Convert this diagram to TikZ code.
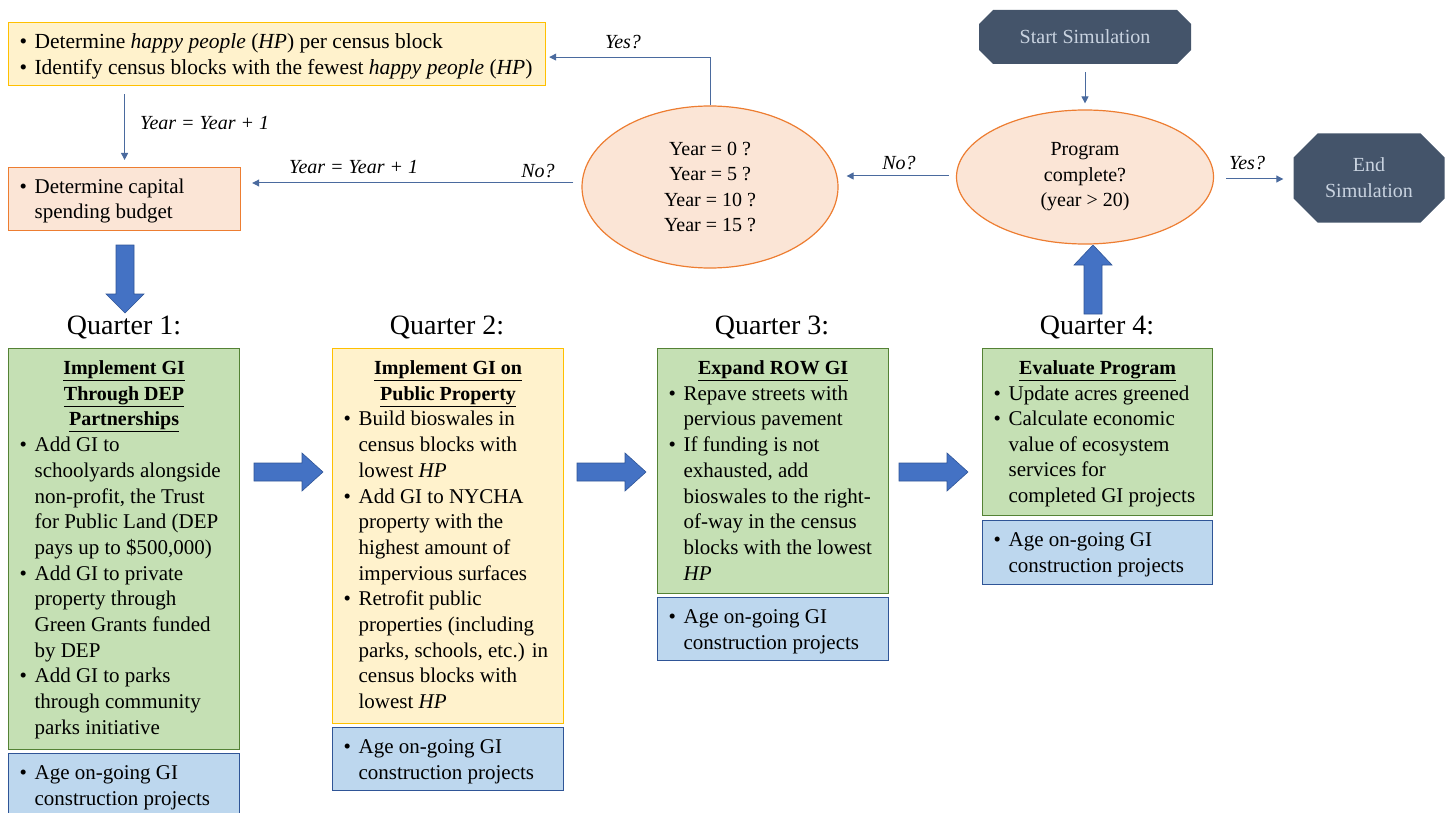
\documentclass[tikz,border=0pt]{standalone}
\usepackage{fontspec}
\setmainfont{Liberation Serif}
\usetikzlibrary{arrows.meta,shapes.geometric}
\definecolor{yfill}{HTML}{FFF2CC}
\definecolor{yline}{HTML}{FFC000}
\definecolor{gfill}{HTML}{C5E0B4}
\definecolor{gline}{HTML}{548235}
\definecolor{bfill}{HTML}{BDD7EE}
\definecolor{bline}{HTML}{2F5597}
\definecolor{ofill}{HTML}{FBE5D6}
\definecolor{oline}{HTML}{ED7D31}
\definecolor{slate}{HTML}{44546A}
\definecolor{slatetxt}{HTML}{C9D3E0}
\definecolor{connc}{HTML}{4A6A9E}
\definecolor{barfill}{HTML}{4472C4}
\definecolor{barline}{HTML}{2F5597}
\newlength{\bulx}\setlength{\bulx}{11pt}
\newlength{\bulw}\setlength{\bulw}{15pt}
\newcommand{\Bf}[1]{\hbox{\strut\hspace*{\bulx}\makebox[\bulw][l]{\textbullet}#1}}
\newcommand{\Bc}[1]{\hbox{\strut\hspace*{\bulx}\hspace*{\bulw}#1}}
\newcommand{\Hd}[1]{\hbox to \hsize{\strut\fontsize{20}{25.7}\selectfont\hfil\underline{\textbf{#1}}\hfil}}
\newcommand{\BxF}[5]{\parbox[c][#3][t]{#2}{\fontsize{#1}{#4}\selectfont\hrule height 0pt depth 0pt width #2\vskip 8pt #5}}
\newcommand{\Bx}[4]{\BxF{21}{#1}{#2}{#3}{#4}}
\tikzset{
  boxbase/.style={line width=1.2pt, inner sep=0pt, anchor=north west},
  ybox/.style={boxbase, draw=yline, fill=yfill},
  gbox/.style={boxbase, draw=gline, fill=gfill},
  bbox/.style={boxbase, draw=bline, fill=bfill},
  obox/.style={boxbase, draw=oline, fill=ofill},
  ell/.style={ellipse, draw=oline, fill=ofill, line width=1.2pt, inner sep=0pt, align=center, font=\fontsize{20}{25.6}\selectfont},
  octo/.style={inner sep=0pt, align=center, text=slatetxt, font=\fontsize{20}{26}\selectfont,
    path picture={\fill[slate] ([xshift=#1]path picture bounding box.north west) -- ([xshift=-#1]path picture bounding box.north east) -- ([yshift=-#1]path picture bounding box.north east) -- ([yshift=#1]path picture bounding box.south east) -- ([xshift=-#1]path picture bounding box.south east) -- ([xshift=#1]path picture bounding box.south west) -- ([yshift=#1]path picture bounding box.south west) -- ([yshift=-#1]path picture bounding box.north west) -- cycle;}},
  qlab/.style={inner sep=0pt, font=\fontsize{28}{30}\selectfont},
  lab/.style={inner sep=0pt, font=\fontsize{20}{24}\selectfont\itshape},
  conn/.style={draw=connc, line width=1pt, -{Triangle[width=7pt,length=7pt]}},
  barr/.style={fill=barfill, draw=barline, line width=0.6pt}
}
\newcommand{\HArr}[3]{\filldraw[barr] (#1,#3-9) -- (#2-21,#3-9) -- (#2-21,#3-19) -- (#2,#3) -- (#2-21,#3+19) -- (#2-21,#3+9) -- (#1,#3+9) -- cycle;}
\begin{document}
\begin{tikzpicture}[x=1pt,y=-1pt]
\useasboundingbox (0,0) rectangle (1447,813);
\clip (0,0) rectangle (1447,813);

% top boxes
\node[ybox] (tb) at (8,22) {\BxF{21.5}{537pt}{63pt}{26}{%
  \Bf{Determine \textit{happy people} (\textit{HP}) per census block}
  \Bf{Identify census blocks with the fewest \textit{happy people} (\textit{HP})}}};
\node[obox] (ob) at (8,167) {\Bx{232pt}{63pt}{25}{%
  \Bf{Determine capital}
  \Bc{spending budget}}};

% decisions
\node[ell, minimum width=256pt, minimum height=162pt] (e1) at (710,187) {Year = 0 ?\\Year = 5 ?\\Year = 10 ?\\Year = 15 ?};
\node[ell, minimum width=257pt, minimum height=134pt] (e2) at (1085,177) {Program\\complete?\\(year > 20)};

% terminals
\node[octo=14pt, minimum width=212pt, minimum height=54pt] (st) at (1085,37) {Start Simulation};
\node[octo=24pt, minimum width=151pt, minimum height=89pt] (en) at (1369,178) {End\\Simulation};

% connectors
\draw[conn, shorten >=3pt] (e1.north) |- ([yshift=-3pt]tb.east);
\draw[conn, shorten <=8pt, shorten >=7pt] (tb.south -| ob.north) -- (ob.north);
\coordinate (nw) at ([yshift=4pt]e1.west);
\draw[conn, shorten <=8pt, shorten >=11pt] (nw) -- (nw -| ob.east);
\coordinate (yw) at ([yshift=1pt]e2.west);
\draw[conn, shorten <=7pt, shorten >=8pt] (yw) -- (yw -| e1.east);
\coordinate (ye) at ([yshift=-2pt]e2.east);
\draw[conn, shorten <=12pt, shorten >=10pt] (ye) -- (ye -| en.west);
\draw[conn, shorten <=8pt, shorten >=6pt] (st.south) -- (e2.north);

% labels
\node[lab] (yes1) at (623,42) {Yes?};
\node[lab, anchor=west] (yr1) at (140,123) {Year = Year + 1};
\node[lab, anchor=west] (yr2) at (289,167) {Year = Year + 1};
\node[lab] (no1) at (538,171) {No?};
\node[lab] (no2) at (899,163) {No?};
\node[lab] (yes2) at (1247,163) {Yes?};

% quarter titles
\node[qlab] (l1) at (124,327) {Quarter 1:};
\node[qlab] (l2) at (447,327) {Quarter 2:};
\node[qlab] (l3) at (772,327) {Quarter 3:};
\node[qlab] (l4) at (1097,327) {Quarter 4:};

% quarter 1
\node[gbox] (q1) at (8,348) {\Bx{231pt}{401pt}{25.7}{%
  \Hd{Implement GI}
  \Hd{Through DEP}
  \Hd{Partnerships}
  \Bf{Add GI to}
  \Bc{schoolyards alongside}
  \Bc{non-profit, the Trust}
  \Bc{for Public Land (DEP}
  \Bc{pays up to \$500,000)}
  \Bf{Add GI to private}
  \Bc{property through}
  \Bc{Green Grants funded}
  \Bc{by DEP}
  \Bf{Add GI to parks}
  \Bc{through community}
  \Bc{parks initiative}}};
\node[bbox] (q1b) at (8,753) {\Bx{231pt}{70pt}{25.6}{%
  \Bf{Age on-going GI}
  \Bc{construction projects}}};

% quarter 2
\node[ybox] (q2) at (332,348) {\Bx{231pt}{375pt}{25.7}{%
  \Hd{Implement GI on}
  \Hd{Public Property}
  \Bf{Build bioswales in}
  \Bc{census blocks with}
  \Bc{lowest \textit{HP}}
  \Bf{Add GI to NYCHA}
  \Bc{property with the}
  \Bc{highest amount of}
  \Bc{impervious surfaces}
  \Bf{Retrofit public}
  \Bc{properties (including}
  \Bc{parks, schools, etc.) in}
  \Bc{census blocks with}
  \Bc{lowest \textit{HP}}}};
\node[bbox] (q2b) at (332,727) {\Bx{231pt}{63pt}{25.6}{%
  \Bf{Age on-going GI}
  \Bc{construction projects}}};

% quarter 3
\node[gbox] (q3) at (657,348) {\Bx{231pt}{245pt}{25.7}{%
  \Hd{Expand ROW GI}
  \Bf{Repave streets with}
  \Bc{pervious pavement}
  \Bf{If funding is not}
  \Bc{exhausted, add}
  \Bc{bioswales to the right-}
  \Bc{of-way in the census}
  \Bc{blocks with the lowest}
  \Bc{\textit{HP}}}};
\node[bbox] (q3b) at (657,597) {\Bx{231pt}{63pt}{25.6}{%
  \Bf{Age on-going GI}
  \Bc{construction projects}}};

% quarter 4
\node[gbox] (q4) at (982,348) {\Bx{230pt}{167pt}{25.6}{%
  \Hd{Evaluate Program}
  \Bf{Update acres greened}
  \Bf{Calculate economic}
  \Bc{value of ecosystem}
  \Bc{services for}
  \Bc{completed GI projects}}};
\node[bbox] (q4b) at (982,520) {\Bx{230pt}{64pt}{25.6}{%
  \Bf{Age on-going GI}
  \Bc{construction projects}}};

% block arrows
\filldraw[barr] (116,245) -- (134,245) -- (134,294) -- (144,294) -- (125,313) -- (106,294) -- (116,294) -- cycle;
\filldraw[barr] (1084,314) -- (1102,314) -- (1102,265) -- (1112,265) -- (1093,245) -- (1074,265) -- (1084,265) -- cycle;
\HArr{254}{323}{472}
\HArr{577}{646}{472}
\HArr{899}{968}{472}
\end{tikzpicture}
\end{document}
